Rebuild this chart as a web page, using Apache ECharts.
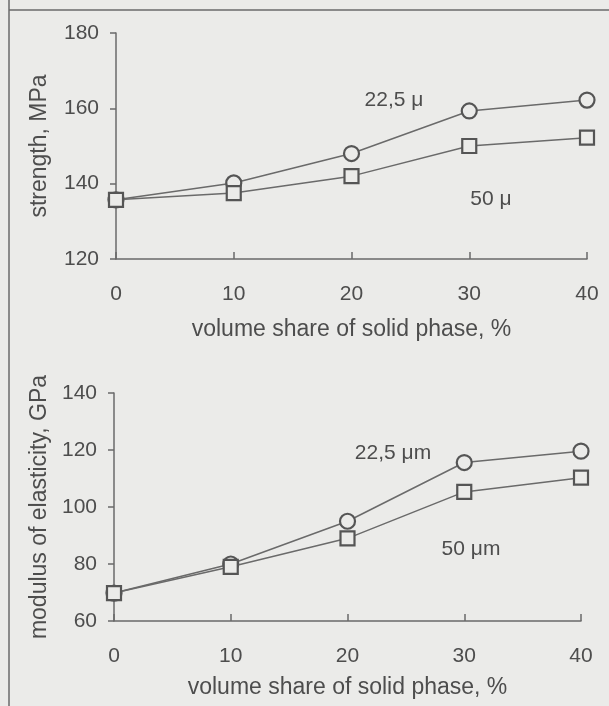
<!DOCTYPE html>
<html><head><meta charset="utf-8">
<script src="https://cdn.jsdelivr.net/npm/echarts@6/dist/echarts.min.js"></script>
<style>html,body{margin:0;padding:0;background:#ebebe9}#c{width:609px;height:706px}</style>
</head><body><div id="c"></div>
<script>
var xValues = [0, 10, 20, 30, 40];
var strength22 = [135.7, 140.2, 148.0, 159.3, 162.2];
var strength50 = [135.7, 137.5, 142.0, 150.0, 152.2];
var modulus22 = [69.8, 80.0, 95.0, 115.6, 119.6];
var modulus50 = [69.8, 79.0, 89.0, 105.3, 110.3];
var xTitle = 'volume share of solid phase, %';
var yTitle1 = 'strength, MPa';
var yTitle2 = 'modulus of elasticity, GPa';
var lab1a = '22,5 μ', lab1b = '50 μ', lab2a = '22,5 μm', lab2b = '50 μm';

var FONT = 'Liberation Sans';
var TXT = '#4d4d4d';
var LINE = '#6a6a6a';
var BG = '#ebebe9';
function pairs(ys){ return xValues.map(function(x,i){ return [x, ys[i]]; }); }
function xAxis(gi,gap){
  return {type:'value', gridIndex:gi, min:0, max:40, interval:10,
    axisLine:{lineStyle:{color:LINE,width:1.5}},
    axisTick:{inside:true,length:7,lineStyle:{color:LINE,width:1.5}},
    axisLabel:{color:TXT,fontFamily:FONT,fontSize:21,margin:25},
    splitLine:{show:false},
    name:xTitle,nameLocation:'middle',nameGap:gap,
    nameTextStyle:{color:TXT,fontFamily:FONT,fontSize:23}};
}
function yAxis(gi,min,max,name,gap){
  return {type:'value', gridIndex:gi, min:min, max:max, interval:20,
    axisLine:{show:true,lineStyle:{color:LINE,width:1.5}},
    axisTick:{show:true,inside:false,length:6,lineStyle:{color:LINE,width:1.5}},
    axisLabel:{color:TXT,fontFamily:FONT,fontSize:21,margin:17},
    splitLine:{show:false},
    name:name,nameLocation:'middle',nameGap:gap,nameRotate:90,
    nameTextStyle:{color:TXT,fontFamily:FONT,fontSize:23}};
}
function ser(gi,data,sym){
  return {type:'line', xAxisIndex:gi, yAxisIndex:gi, data:pairs(data),
    symbol:sym, symbolSize:sym==='circle'?15:14, showAllSymbol:true,
    lineStyle:{color:LINE,width:1.5},
    itemStyle:{color:BG,borderColor:'#555555',borderWidth:2.2},
    emphasis:{disabled:true}, z: sym==='circle'?3:4};
}
function txt(x,y,t){
  return {type:'text', x:x, y:y, style:{text:t, fill:TXT, font:'21px "'+FONT+'"', textAlign:'center', textVerticalAlign:'middle'}};
}
var chart = echarts.init(document.getElementById('c'));
chart.setOption({
  backgroundColor:BG,
  animation:false,
  grid:[{left:116,right:22,top:33,bottom:447},{left:114,right:28,top:393,bottom:85}],
  xAxis:[xAxis(0,59),xAxis(1,55)],
  yAxis:[yAxis(0,120,180,yTitle1,65),yAxis(1,60,140,yTitle2,62)],
  series:[ser(0,strength22,'circle'),ser(0,strength50,'rect'),ser(1,modulus22,'circle'),ser(1,modulus50,'rect')],
  graphic:[
    {type:'line',shape:{x1:9,y1:0,x2:9,y2:706},style:{stroke:'#6a6a6a',lineWidth:1.5}},
    {type:'line',shape:{x1:9,y1:10,x2:609,y2:10},style:{stroke:'#6a6a6a',lineWidth:1.5}},
    txt(394,100,lab1a), txt(491,199,lab1b), txt(393,453,lab2a), txt(471,549,lab2b)
  ]
});
</script></body></html>
